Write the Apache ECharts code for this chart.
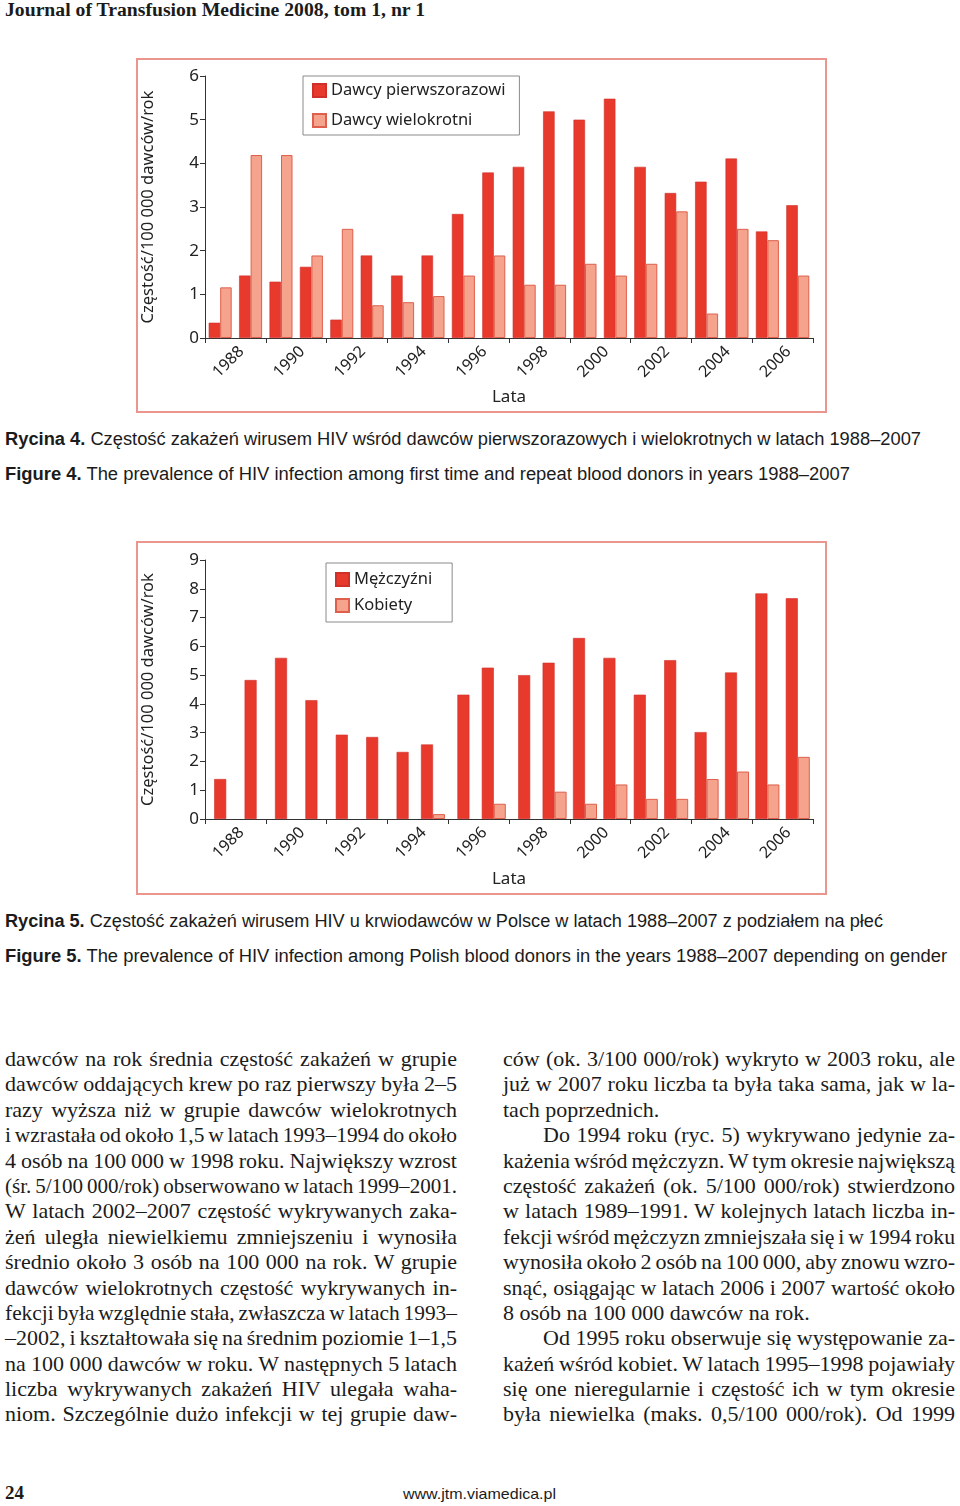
<!DOCTYPE html>
<html><head><meta charset="utf-8">
<script src="https://cdn.jsdelivr.net/npm/echarts@6/dist/echarts.min.js"></script>
<style>
html,body{margin:0;padding:0;background:#fff;}
body{width:960px;height:1506px;position:relative;overflow:hidden;color:#1b1b1b;}
.abs{position:absolute;}
.fit{position:absolute;white-space:nowrap;transform-origin:0 0;}
.hdr{font-family:"Liberation Serif","Times New Roman",serif;font-weight:bold;font-size:18px;line-height:19px;}
.cap{font-family:"Liberation Sans Narrow","Liberation Sans",Arial,sans-serif;font-size:18px;line-height:20px;color:#1b1b1b;}
.cap b{font-weight:bold;}
.col{position:absolute;width:452px;font-family:"Liberation Serif","Times New Roman",serif;font-size:22px;line-height:25.4px;}
.ln{display:block;height:25.4px;white-space:nowrap;}
.ln span{display:inline-block;white-space:nowrap;transform-origin:0 0;}
.frame{position:absolute;box-sizing:border-box;border:2px solid #ea958e;pointer-events:none;}
</style></head>
<body>
<div class="fit hdr" data-w="420" style="left:5px;top:1px;">Journal of Transfusion Medicine 2008, tom 1, nr 1</div>

<div id="c1" class="abs" style="left:136px;top:58px;width:691px;height:355px;"></div>
<div class="frame" style="left:136px;top:58px;width:691px;height:355px;"></div>

<div class="fit cap" data-w="916" style="left:5px;top:429px;"><b>Rycina 4.</b> Częstość zakażeń wirusem HIV wśród dawców pierwszorazowych i wielokrotnych w latach 1988–2007</div>
<div class="fit cap" data-w="845" style="left:5px;top:464px;"><b>Figure 4.</b> The prevalence of HIV infection among first time and repeat blood donors in years 1988–2007</div>

<div id="c2" class="abs" style="left:136px;top:541px;width:691px;height:354px;"></div>
<div class="frame" style="left:136px;top:541px;width:691px;height:354px;"></div>

<div class="fit cap" data-w="878" style="left:5px;top:911px;"><b>Rycina 5.</b> Częstość zakażeń wirusem HIV u krwiodawców w Polsce w latach 1988–2007 z podziałem na płeć</div>
<div class="fit cap" data-w="942" style="left:5px;top:946px;"><b>Figure 5.</b> The prevalence of HIV infection among Polish blood donors in the years 1988–2007 depending on gender</div>

<div class="col" id="colL" style="left:5px;top:1046px;"></div>
<div class="col" id="colR" style="left:503px;top:1046px;"></div>

<div class="fit" data-w="19" style="left:5px;top:1483px;font-family:'Liberation Serif',serif;font-weight:bold;font-size:18px;line-height:20px;">24</div>
<div class="fit" data-w="153" style="left:403px;top:1485px;font-family:'Liberation Sans',Arial,sans-serif;font-size:15px;line-height:18px;">www.jtm.viamedica.pl</div>

<script>
// ---------------- DATA ----------------
const years = ['1988','1989','1990','1991','1992','1993','1994','1995','1996','1997',
               '1998','1999','2000','2001','2002','2003','2004','2005','2006','2007'];
const tickLabels = ['1988','1990','1992','1994','1996','1998','2000','2002','2004','2006'];

// Rycina 4
const firstTime = [0.35,1.43,1.29,1.63,0.42,1.89,1.43,1.89,2.84,3.79,
                   3.92,5.19,5.00,5.48,3.92,3.32,3.58,4.11,2.44,3.04];
const repeatDonors = [1.16,4.19,4.19,1.89,2.50,0.75,0.82,0.96,1.43,1.89,
                      1.22,1.22,1.70,1.43,1.70,2.90,0.56,2.50,2.24,1.43];

// Rycina 5
const men = [1.39,4.83,5.60,4.13,2.93,2.85,2.33,2.59,4.32,5.26,
             5.00,5.43,6.29,5.60,4.32,5.52,3.02,5.09,7.84,7.67];
const women = [0,0,0,0,0,0,0,0.17,0,0.53,
               0,0.95,0.53,1.20,0.70,0.70,1.39,1.65,1.20,2.16];

const yName = 'Częstość/100 000 dawców/rok';
const xName = 'Lata';
// --------------------------------------

const FONT = '"Noto Sans","Open Sans",sans-serif';
const DARK = '#e8392d', DARK_B = '#d0302a';
const LIGHT = '#f5a38c', LIGHT_B = '#de5f4c';
const AX = '#333';
const labelSlots = [''].concat(years.map(y => tickLabels.includes(y) ? y : ''));

function grids(top, bottom) {
  return [
    {left: 69, top: top, right: 14, bottom: bottom, containLabel: false, outerBoundsMode: 'none'},
    {left: 75, top: top, right: 8, bottom: bottom, containLabel: false, outerBoundsMode: 'none'}
  ];
}

function baseAxes(yMax, nameGapX) {
  return {
    yAxis: [{
      type: 'value', min: 0, max: yMax, interval: 1, gridIndex: 0,
      name: yName, nameLocation: 'middle', nameGap: 48, nameRotate: 90,
      nameTextStyle: {fontFamily: FONT, fontSize: 16.5, color: '#222'},
      axisLine: {show: true, lineStyle: {color: AX, width: 1}},
      axisTick: {show: true, length: 5, lineStyle: {color: AX}},
      axisLabel: {fontFamily: FONT, fontSize: 17, color: '#222', margin: 6},
      splitLine: {show: false}
    }, {
      type: 'value', min: 0, max: yMax, gridIndex: 1, show: false, splitLine: {show: false}
    }],
    xAxis: [
      {type: 'category', data: years, position: 'bottom', gridIndex: 0,
       name: xName, nameLocation: 'middle', nameGap: nameGapX,
       nameTextStyle: {fontFamily: FONT, fontSize: 17, color: '#222'},
       axisLine: {show: true, lineStyle: {color: AX, width: 1}},
       axisTick: {show: true, length: 5, lineStyle: {color: AX}},
       axisLabel: {show: false}},
      {type: 'category', data: labelSlots, boundaryGap: false, position: 'bottom', gridIndex: 1,
       axisLine: {show: false}, axisTick: {show: false}, splitLine: {show: false},
       axisLabel: {interval: 0, rotate: 45, margin: 11, fontFamily: FONT, fontSize: 16, color: '#222'}},
      {type: 'category', data: years, show: false, gridIndex: 0}
    ]
  };
}

function legend(left, top, gap) {
  return {
    orient: 'vertical', left: left, top: top, itemWidth: 13, itemHeight: 13, itemGap: gap,
    padding: [6, 14, 6, 9], borderColor: '#8a8a8a', borderWidth: 1, backgroundColor: '#fff',
    icon: 'rect', textStyle: {fontFamily: FONT, fontSize: 16.5, color: '#222', lineHeight: 16}
  };
}

// Chart 1
const ch1 = echarts.init(document.getElementById('c1'), null, {renderer: 'canvas'});
const a1 = baseAxes(6, 51);
ch1.setOption({
  animation: false,
  grid: grids(18, 75),
  legend: Object.assign(legend(167, 18, 13), {data: ['Dawcy pierwszorazowi', 'Dawcy wielokrotni']}),
  xAxis: a1.xAxis, yAxis: a1.yAxis,
  series: [
    {name: 'Dawcy pierwszorazowi', type: 'bar', data: firstTime, barWidth: 11.5, barGap: '0%',
     itemStyle: {color: DARK, borderColor: DARK_B, borderWidth: 0.6}},
    {name: 'Dawcy wielokrotni', type: 'bar', data: repeatDonors, barWidth: 11.5, barGap: '0%',
     itemStyle: {color: LIGHT, borderColor: LIGHT_B, borderWidth: 1}}
  ]
});

// Chart 2
const menPaired = men.map((v, i) => women[i] > 0 ? v : '-');
const menSingle = men.map((v, i) => women[i] > 0 ? '-' : v);
const womenBars = women.map(v => v > 0 ? v : '-');
const ch2 = echarts.init(document.getElementById('c2'), null, {renderer: 'canvas'});
const a2 = baseAxes(9, 52);
ch2.setOption({
  animation: false,
  grid: grids(19, 76),
  legend: Object.assign(legend(190, 22, 9), {data: ['Mężczyźni', 'Kobiety'], padding: [8, 20, 8, 9]}),
  xAxis: a2.xAxis, yAxis: a2.yAxis,
  series: [
    {name: 'Mężczyźni', type: 'bar', data: menPaired, barWidth: 12, barGap: '0%',
     itemStyle: {color: DARK, borderColor: DARK_B, borderWidth: 0.6}},
    {name: 'Kobiety', type: 'bar', data: womenBars, barWidth: 12, barGap: '0%',
     itemStyle: {color: LIGHT, borderColor: LIGHT_B, borderWidth: 1}},
    {name: 'Mężczyźni', type: 'bar', xAxisIndex: 2, data: menSingle, barWidth: 12,
     itemStyle: {color: DARK, borderColor: DARK_B, borderWidth: 0.6}}
  ]
});

// Body text (lines as in the printed page)
const leftLines = [
 ['dawców na rok średnia częstość zakażeń w grupie', 1, 0],
 ['dawców oddających krew po raz pierwszy była 2–5', 1, 0],
 ['razy wyższa niż w grupie dawców wielokrotnych', 1, 0],
 ['i wzrastała od około 1,5 w latach 1993–1994 do około', 1, 0],
 ['4 osób na 100 000 w 1998 roku. Największy wzrost', 1, 0],
 ['(śr. 5/100 000/rok) obserwowano w latach 1999–2001.', 1, 0],
 ['W latach 2002–2007 częstość wykrywanych zaka-', 1, 0],
 ['żeń uległa niewielkiemu zmniejszeniu i wynosiła', 1, 0],
 ['średnio około 3 osób na 100 000 na rok. W grupie', 1, 0],
 ['dawców wielokrotnych częstość wykrywanych in-', 1, 0],
 ['fekcji była względnie stała, zwłaszcza w latach 1993–', 1, 0],
 ['–2002, i kształtowała się na średnim poziomie 1–1,5', 1, 0],
 ['na 100 000 dawców w roku. W następnych 5 latach', 1, 0],
 ['liczba wykrywanych zakażeń HIV ulegała waha-', 1, 0],
 ['niom. Szczególnie dużo infekcji w tej grupie daw-', 1, 0]
];
const rightLines = [
 ['ców (ok. 3/100 000/rok) wykryto w 2003 roku, ale', 1, 0],
 ['już w 2007 roku liczba ta była taka sama, jak w la-', 1, 0],
 ['tach poprzednich.', 0, 0],
 ['Do 1994 roku (ryc. 5) wykrywano jedynie za-', 1, 40],
 ['każenia wśród mężczyzn. W tym okresie największą', 1, 0],
 ['częstość zakażeń (ok. 5/100 000/rok) stwierdzono', 1, 0],
 ['w latach 1989–1991. W kolejnych latach liczba in-', 1, 0],
 ['fekcji wśród mężczyzn zmniejszała się i w 1994 roku', 1, 0],
 ['wynosiła około 2 osób na 100 000, aby znowu wzro-', 1, 0],
 ['snąć, osiągając w latach 2006 i 2007 wartość około', 1, 0],
 ['8 osób na 100 000 dawców na rok.', 0, 0],
 ['Od 1995 roku obserwuje się występowanie za-', 1, 40],
 ['każeń wśród kobiet. W latach 1995–1998 pojawiały', 1, 0],
 ['się one nieregularnie i częstość ich w tym okresie', 1, 0],
 ['była niewielka (maks. 0,5/100 000/rok). Od 1999', 1, 0]
];
function buildCol(id, lines) {
  const col = document.getElementById(id);
  lines.forEach(([t, just, ind]) => {
    const d = document.createElement('div'); d.className = 'ln';
    const s = document.createElement('span'); s.textContent = t;
    s.style.marginLeft = ind + 'px';
    s.dataset.w = 452 - ind; s.dataset.j = just;
    d.appendChild(s); col.appendChild(d);
  });
}
buildCol('colL', leftLines); buildCol('colR', rightLines);

function fitAll() {
  document.querySelectorAll('.col .ln span').forEach(s => {
    s.style.wordSpacing = '0px'; s.style.transform = '';
    const W = +s.dataset.w, w = s.getBoundingClientRect().width;
    const n = (s.textContent.match(/ /g) || []).length;
    if (s.dataset.j === '1' && n) {
      let ws = (W - w) / n;
      if (ws < -1.5) {
        ws = -1.5; s.style.wordSpacing = ws + 'px';
        s.style.transform = 'scaleX(' + (W / (w + n * ws)) + ')';
      } else s.style.wordSpacing = ws + 'px';
    } else if (w > W) {
      s.style.transform = 'scaleX(' + (W / w) + ')';
    }
  });
  document.querySelectorAll('.fit').forEach(el => {
    el.style.transform = '';
    const w = el.getBoundingClientRect().width;
    el.style.transform = 'scaleX(' + (+el.dataset.w / w) + ')';
  });
}
fitAll();
if (document.fonts && document.fonts.ready) document.fonts.ready.then(fitAll);
</script>
</body></html>
